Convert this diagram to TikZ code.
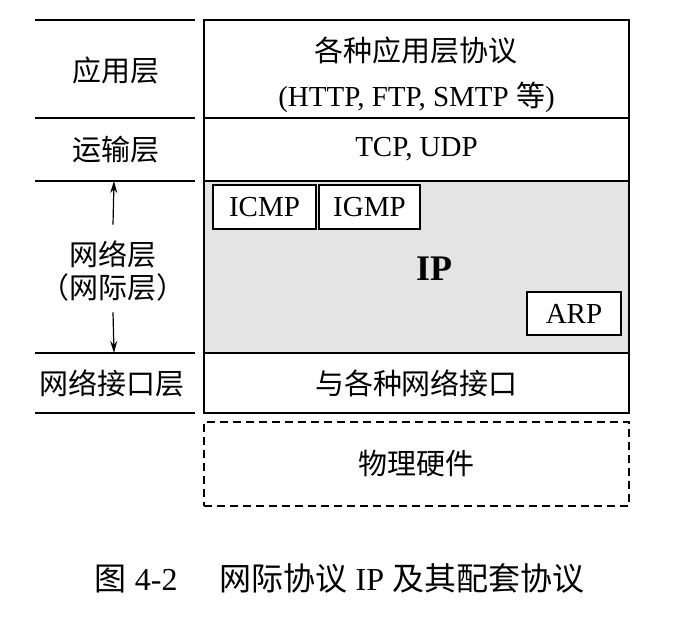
\documentclass[tikz,border=0pt]{standalone}
\usepackage{fontspec}
\setmainfont{Liberation Serif}
\newfontfamily\cjk{Noto Sans CJK SC}
\usepackage{tikz}
\usetikzlibrary{arrows.meta,positioning}
\definecolor{ipgrey}{RGB}{228,228,228}

\begin{document}
\begin{tikzpicture}[x=0.5pt, y=-0.5pt,
    every node/.style={font=\fontsize{14.5}{22.5}\selectfont},
    layerbox/.style={rectangle, draw, line width=1pt, minimum width=212.5pt, inner sep=0pt, align=center},
    protobox/.style={rectangle, draw, line width=0.9pt, fill=white, inner sep=0pt, minimum height=22pt},
    sepline/.style={line width=0.9pt},
    tip/.style={-{Stealth[length=6pt, width=3.5pt]}, line width=0.6pt}]
    \useasboundingbox (0,0) rectangle (682,634);

    % Right column: protocol stack
    \node[layerbox, minimum height=49pt] (app) at (416.5,69) {};
    \node[align=center] (apptext) at (416.5,75)
        {{\cjk 各种应用层协议}\\(HTTP, FTP, SMTP {\cjk 等})};
    \node[layerbox, minimum height=31.5pt] (trans) at (416.5,149.5) {TCP, UDP};
    \node[layerbox, minimum height=86pt, fill=ipgrey] (net) at (416.5,267) {};
    \node[layerbox, minimum height=30pt] (link) at (416.5,383) {\cjk 与各种网络接口};
    \node[layerbox, minimum height=42pt, dashed, dash pattern=on 4pt off 2.5pt] (phys) at (416.5,464) {\cjk 物理硬件};

    \node[protobox, minimum width=51.5pt] (icmp) at (264.5,207) {ICMP};
    \node[protobox, minimum width=50.5pt] (igmp) at (369.5,207) {IGMP};
    \node[protobox, minimum width=47pt, minimum height=21.5pt] (arp) at (574,313.5) {ARP};
    \node[font=\fontsize{18}{20}\selectfont\bfseries] (ip) at (434,269) {IP};

    % Left column: layer names
    \foreach \yy in {20,118,181,353,413} {
        \draw[sepline] (35,\yy) -- (195,\yy);
    }
    \coordinate (nettop) at (114,181);
    \coordinate (netbot) at (114,353);
    \node (applbl) at (116,70) {\cjk 应用层};
    \node (translbl) at (116,150) {\cjk 运输层};
    \node[align=center, font=\fontsize{14.5}{16.5}\selectfont] (netlbl) at (113,271) {\cjk 网络层\\\cjk （网际层）};
    \node (linklbl) at (112,383) {\cjk 网络接口层};
    \draw[tip] ([yshift=4.5pt]netlbl.north) -- (nettop);
    \draw[tip] ([yshift=-2pt]netlbl.south) -- (netbot);

    % Caption
    \node[font=\fontsize{16}{18}\selectfont] (caption) at (339.5,578) {{\cjk 图} 4-2\hspace{21pt}{\cjk 网际协议} IP {\cjk 及其配套协议}};
\end{tikzpicture}
\end{document}
